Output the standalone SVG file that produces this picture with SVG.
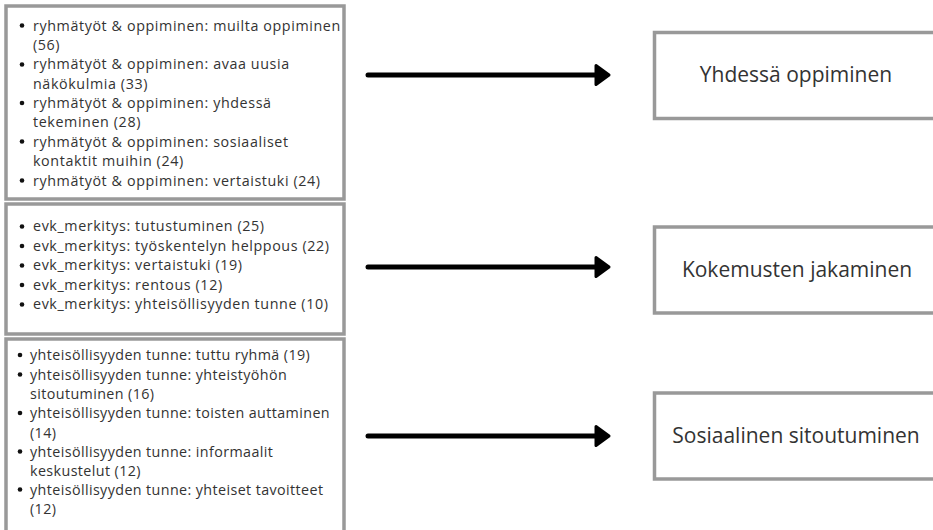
<svg xmlns="http://www.w3.org/2000/svg" width="933" height="530" viewBox="0 0 933 530">
<defs>
<style>
.box{fill:#fff;stroke:#999;stroke-width:3.5}
.li{font-family:"Open Sans","Noto Sans",sans-serif;font-size:14.3px;letter-spacing:0.6px;fill:#333}
.li3{letter-spacing:0.4px}
.lbl{font-family:"Open Sans","Noto Sans",sans-serif;font-size:21px;fill:#333;text-anchor:middle}
.arr{stroke:#000;stroke-width:5;stroke-linecap:round;fill:none}
</style>
</defs>
<rect width="933" height="530" fill="#fff"/>

<g id="list1">
<rect class="box" x="6" y="6" width="338" height="193"/>
<g class="li">
<circle cx="22" cy="25.5" r="2.3" fill="#111"/>
<text x="33" y="30.5">ryhmätyöt &amp; oppiminen: muilta oppiminen</text>
<text x="33" y="49.5">(56)</text>
<circle cx="22" cy="64.5" r="2.3" fill="#111"/>
<text x="33" y="69">ryhmätyöt &amp; oppiminen: avaa uusia</text>
<text x="33" y="88.5">näkökulmia (33)</text>
<circle cx="22" cy="103" r="2.3" fill="#111"/>
<text x="33" y="108">ryhmätyöt &amp; oppiminen: yhdessä</text>
<text x="33" y="127">tekeminen (28)</text>
<circle cx="22" cy="141.5" r="2.3" fill="#111"/>
<text x="33" y="146.5">ryhmätyöt &amp; oppiminen: sosiaaliset</text>
<text x="33" y="165.5">kontaktit muihin (24)</text>
<circle cx="22" cy="180.5" r="2.3" fill="#111"/>
<text x="33" y="185.5">ryhmätyöt &amp; oppiminen: vertaistuki (24)</text>
</g>
</g>

<g id="list2">
<rect class="box" x="6" y="204" width="338" height="130"/>
<g class="li">
<circle cx="22" cy="226.5" r="2.3" fill="#111"/>
<text x="33" y="231">evk_merkitys: tutustuminen (25)</text>
<circle cx="22" cy="246" r="2.3" fill="#111"/>
<text x="33" y="250.5">evk_merkitys: työskentelyn helppous (22)</text>
<circle cx="22" cy="265.5" r="2.3" fill="#111"/>
<text x="33" y="270">evk_merkitys: vertaistuki (19)</text>
<circle cx="22" cy="285" r="2.3" fill="#111"/>
<text x="33" y="289.5">evk_merkitys: rentous (12)</text>
<circle cx="22" cy="304.5" r="2.3" fill="#111"/>
<text x="33" y="309">evk_merkitys: yhteisöllisyyden tunne (10)</text>
</g>
</g>

<g id="list3">
<rect class="box" x="6" y="339" width="338" height="200"/>
<g class="li li3">
<circle cx="20" cy="355" r="2.3" fill="#111"/>
<text x="30" y="360">yhteisöllisyyden tunne: tuttu ryhmä (19)</text>
<circle cx="20" cy="374.5" r="2.3" fill="#111"/>
<text x="30" y="379.5">yhteisöllisyyden tunne: yhteistyöhön</text>
<text x="30" y="399">sitoutuminen (16)</text>
<circle cx="20" cy="413" r="2.3" fill="#111"/>
<text x="30" y="418">yhteisöllisyyden tunne: toisten auttaminen</text>
<text x="30" y="437.5">(14)</text>
<circle cx="20" cy="451.5" r="2.3" fill="#111"/>
<text x="30" y="456.5">yhteisöllisyyden tunne: informaalit</text>
<text x="30" y="475.5">keskustelut (12)</text>
<circle cx="20" cy="489.5" r="2.3" fill="#111"/>
<text x="30" y="494.5">yhteisöllisyyden tunne: yhteiset tavoitteet</text>
<text x="30" y="513.5">(12)</text>
</g>
</g>

<g id="target1">
<rect class="box" x="654.5" y="32.5" width="300" height="86"/>
<text class="lbl" x="796" y="82">Yhdessä oppiminen</text>
</g>
<g id="target2">
<rect class="box" x="654.5" y="227" width="300" height="86"/>
<text class="lbl" x="797" y="277">Kokemusten jakaminen</text>
</g>
<g id="target3">
<rect class="box" x="654.5" y="393" width="300" height="86"/>
<text class="lbl" x="796" y="443">Sosiaalinen sitoutuminen</text>
</g>

<g id="connectors">
<g fill="#000" stroke="#000" stroke-width="3" stroke-linejoin="round">
<line class="arr" x1="368" y1="75" x2="598" y2="75"/>
<path d="M596,65.5 L609,75 L596,84.5 Z"/>
<line class="arr" x1="368" y1="267" x2="598" y2="267"/>
<path d="M596,257.5 L609,267 L596,276.5 Z"/>
<line class="arr" x1="368" y1="436" x2="598" y2="436"/>
<path d="M596,426.5 L609,436 L596,445.5 Z"/>
</g>
</g>
</svg>
